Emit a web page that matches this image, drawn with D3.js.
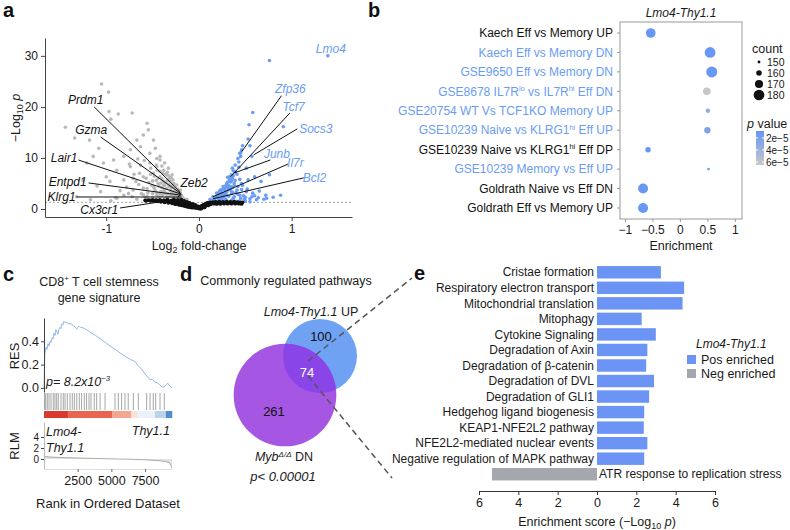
<!DOCTYPE html>
<html><head><meta charset="utf-8">
<script src="https://cdn.jsdelivr.net/npm/d3@7"></script>
<style>
body{margin:0;background:#fff;}
svg{font-family:"Liberation Sans",Arial,Helvetica,sans-serif;}
</style></head><body>
<svg id="fig" width="790" height="530"></svg>
<script>
// ---------------- DATA ----------------
// Panel a: volcano (log2FC, -log10 p)
const volcanoBlack = [[-0.58,1.7],[-0.55,1.75],[-0.52,1.65],[-0.5,1.8],[-0.48,1.6],[-0.46,1.75],[-0.44,1.55],[-0.42,1.8],[-0.4,1.5],[-0.38,1.7],[-0.36,1.45],[-0.34,1.85],[-0.32,1.35],[-0.3,1.65],[-0.28,1.25],[-0.27,1.9],[-0.26,1.5],[-0.25,0.95],[-0.24,1.15],[-0.23,1.75],[-0.22,1.4],[-0.21,0.8],[-0.2,1.05],[-0.19,1.85],[-0.18,1.3],[-0.18,0.7],[-0.17,0.95],[-0.16,1.6],[-0.15,1.15],[-0.15,0.55],[-0.14,0.8],[-0.13,1.4],[-0.12,1.0],[-0.12,0.4],[-0.11,0.65],[-0.1,1.2],[-0.09,0.85],[-0.09,0.3],[-0.08,0.5],[-0.07,1.0],[-0.06,0.65],[-0.05,0.35],[-0.04,0.8],[-0.03,0.45],[-0.02,0.2],[-0.01,0.5],[0,0.1],[0,0.35],[0.01,0.25],[0.02,0.5],[0.03,0.15],[0.04,0.7],[0.05,0.4],[0.06,0.9],[0.07,0.6],[0.08,1.1],[0.09,0.8],[0.1,1.25],[0.11,0.95],[0.12,1.3],[0.13,1.0],[0.15,1.35],[0.16,1.05],[0.18,1.4],[0.2,1.1],[0.22,1.45],[0.24,1.15],[0.26,1.4],[0.28,1.2],[0.3,1.45],[0.32,1.15],[0.34,1.4],[0.36,1.2],[0.38,1.45],[0.4,1.15],[0.42,1.35],[0.44,1.2],[0.46,1.0],[0.47,1.3],
 [-0.57,1.6],[-0.535,1.7],[-0.505,1.6],[-0.47,1.7],[-0.45,1.5],[-0.43,1.65],[-0.41,1.4],[-0.39,1.6],[-0.37,1.3],[-0.35,1.6],[-0.33,1.2],[-0.31,1.55],[-0.29,1.1],[-0.27,1.4],[-0.26,1.0],[-0.24,1.6],[-0.22,0.9],[-0.21,1.3],[-0.19,0.75],[-0.17,1.45],[-0.16,0.65],[-0.14,1.2],[-0.13,0.5],[-0.11,1.05],[-0.1,0.35],[-0.08,0.9],[-0.07,0.25],[-0.05,0.7],[-0.04,0.2],[-0.03,0.6],[-0.01,0.15],[0.01,0.4],[0.02,0.05],[0.03,0.6],[0.05,0.8],[0.06,0.3],[0.07,1.0],[0.09,1.15],[0.1,0.7],[0.12,0.9],[0.14,1.2],[0.17,1.25],[0.19,1.0],[0.21,1.3],[0.23,1.0],[0.25,1.25],[0.27,1.05],[0.29,1.3],[0.31,1.05],[0.33,1.3],[0.35,1.05],[0.37,1.3],[0.39,1.05],[0.41,1.25],[0.43,1.05],[0.45,1.25]];
const volcanoGray = [[-1.05,24.5],[-0.975,22.9],[-1.44,16.0],[-1.34,13.9],[-0.97,19.1],[-0.87,18.6],[-0.72,18.8],[-0.95,17.6],[-1.18,13.5],[-1.08,11.9],[-0.56,16.8],[-0.545,15.5],[-0.49,13.5],[-0.6,14.5],[-0.67,13.5],[-0.63,12.2],[-0.47,11.9],[-0.53,10.9],[-0.42,10.3],[-0.74,11.6],[-0.81,10.3],[-0.92,9.6],[-1.03,9.0],[-1.14,10.3],[-1.21,9.0],[-0.885,7.6],[-0.74,8.3],[-0.63,8.6],[-0.53,9.0],[-0.455,8.3],[-0.38,7.6],[-0.35,6.7],[-0.42,6.3],[-0.49,7.0],[-0.6,6.3],[-0.71,6.0],[-0.81,5.7],[-0.96,5.4],[-0.31,5.4],[-0.38,4.7],[-0.49,4.4],[-0.6,4.1],[-0.71,3.7],[-0.28,4.4],[-0.29,3.4],[-0.365,3.1],[-0.455,2.7],[-0.56,2.5],[-0.81,2.7],[-0.24,2.4],[-0.28,2.1],[-0.35,1.9],[-0.22,3.1],[-0.2,3.7],[-0.24,4.7],[-0.28,5.7],[-0.29,6.7],[-0.33,8.0],[-0.37,9.0],[-0.42,9.6],[-0.455,9.9],[-0.19,2.7],[-0.17,2.1],[-0.15,1.8],[-0.13,1.9],[-1.06,3.4],[-1.32,2.4],[-1.17,1.8],[-0.53,1.8],[-0.67,1.9],[-0.885,2.1],[-0.42,1.6],[-0.29,1.6],[-0.3,4.0],[-0.33,4.8],[-0.26,3.6],[-0.27,5.0],[-0.32,5.9],[-0.36,5.2],[-0.4,5.9],[-0.44,5.0],[-0.38,3.6],[-0.42,3.0],[-0.47,3.5],[-0.5,5.5],[-0.52,6.8],[-0.45,7.6],[-0.4,8.4],[-0.34,7.2],[-0.25,2.9],[-0.23,3.9],[-0.21,2.5],[-0.2,2.0],[-0.18,2.3],[-0.16,1.6],[-0.14,1.45],[-0.12,1.4],[-0.55,3.2],[-0.58,2.2],[-0.62,3.0],[-0.65,4.8],[-0.68,5.4],[-0.72,2.4],[-0.76,3.0],[-0.78,4.3],[-0.85,3.6],[-0.9,2.2],[-0.95,1.6],[-1.0,6.3],[-1.1,4.5],[-1.25,5.6],[-0.33,2.3],[-0.37,2.0],[-0.45,1.7],[-0.5,2.2],[-0.4,2.6],
 [-0.22,1.6],[-0.23,2.2],[-0.24,3.3],[-0.26,2.6],[-0.26,4.2],[-0.27,3.2],[-0.28,2.8],[-0.29,4.8],[-0.3,3.0],[-0.3,6.2],[-0.31,2.6],[-0.31,3.6],[-0.32,4.4],[-0.33,6.5],[-0.34,3.0],[-0.34,5.6],[-0.35,2.4],[-0.35,4.0],[-0.36,6.8],[-0.37,3.3],[-0.37,4.6],[-0.38,5.4],[-0.39,2.8],[-0.39,7.0],[-0.4,4.2],[-0.41,3.4],[-0.41,5.1],[-0.42,7.4],[-0.43,2.4],[-0.43,4.5],[-0.44,6.0],[-0.45,3.1],[-0.46,5.6],[-0.46,8.6],[-0.48,4.0],[-0.48,6.4],[-0.5,3.0],[-0.51,4.6],[-0.52,8.0],[-0.54,5.2],[-0.56,4.0],[-0.57,6.0],[-0.59,9.5],[-0.6,2.8],[-0.64,7.0],[-0.66,9.8],[-0.7,6.8],[-0.75,8.8]];
const volcanoBlue = [[0.76,29.1],[0.58,18.9],[0.54,16.5],[0.91,16.1],[0.53,13.7],[0.55,12.4],[0.46,11.6],[0.44,10.9],[0.45,10.3],[0.57,10.3],[0.42,9.9],[0.39,8.6],[0.36,8.0],[0.39,7.3],[0.35,6.7],[0.51,8.0],[0.6,6.3],[0.76,6.7],[0.67,5.4],[0.53,5.7],[0.46,5.0],[0.33,5.7],[0.30,5.0],[0.26,4.4],[0.23,3.7],[0.33,4.1],[0.41,3.7],[0.51,3.4],[0.19,3.1],[0.30,2.7],[0.44,2.7],[0.72,2.7],[0.88,2.7],[0.73,2.1],[0.57,2.4],[0.15,2.4],[0.23,2.1],[0.37,2.1],[0.49,1.9],[0.62,1.8],[0.12,1.9],[0.30,1.6],[0.44,1.6],[0.55,1.4],[0.15,1.4],[0.14,1.5],[0.16,1.8],[0.18,2.2],[0.2,2.6],[0.22,2.9],[0.24,3.3],[0.26,3.0],[0.28,3.6],[0.3,4.2],[0.32,4.6],[0.34,5.3],[0.36,6.0],[0.27,2.4],[0.25,2.0],[0.21,1.7],[0.19,1.45],[0.29,1.9],[0.32,2.5],[0.35,3.0],[0.38,2.4],[0.4,3.2],[0.42,4.4],[0.38,5.0],[0.36,4.2],[0.34,3.7],[0.45,2.1],[0.48,2.6],[0.5,1.6],[0.27,1.5],[0.35,1.7],[0.4,1.5],[0.58,3.1],[0.64,2.2],[0.2,1.35],[0.13,1.35],[0.17,1.4],[0.24,1.55],[0.31,6.2],[0.37,7.5],[0.43,8.2],[0.47,12.4],[0.45,11.0],
 [0.15,1.6],[0.17,2.0],[0.19,2.4],[0.21,2.2],[0.22,3.4],[0.24,2.7],[0.25,3.8],[0.26,2.2],[0.27,4.0],[0.28,3.0],[0.29,4.6],[0.3,3.4],[0.31,5.3],[0.32,3.8],[0.33,6.3],[0.34,4.4],[0.35,5.5],[0.36,3.3],[0.37,6.5],[0.38,4.6],[0.39,5.6],[0.41,6.8],[0.42,2.9],[0.43,9.2],[0.44,5.8],[0.46,3.8],[0.47,4.6],[0.5,2.3],[0.52,3.9],[0.55,2.0],[0.6,2.6],[0.65,3.5],[0.7,1.9],[0.8,2.3],[1.39,30.0]];
const sigThreshold = 1.3;
const geneNames = ["Prdm1","Gzma","Lair1","Entpd1","Klrg1","Cx3cr1","Zeb2","Lmo4","Zfp36","Tcf7","Socs3","Junb","Il7r","Bcl2"];
const geneFC    = [-0.20,-0.20,-0.19,-0.19,-0.19,-0.20,-0.23,1.39,0.46,0.34,0.59,0.37,0.15,0.15];
const geneLogP  = [3.3,3.1,2.9,2.7,2.35,2.0,2.2,30.0,11.2,6.3,10.6,7.0,2.4,2.0];
const geneUp    = [false,false,false,false,false,false,false,true,true,true,true,true,true,true];
const volcanoXTicks = [-1,0,1];
const volcanoYTicks = [0,10,20,30];

// Panel b: dot plot
const gseTerms = ["Kaech Eff vs Memory UP","Kaech Eff vs Memory DN","GSE9650 Eff vs Memory DN","GSE8678 IL7R^{lo} vs IL7R^{hi} Eff DN","GSE20754 WT Vs TCF1KO Memory UP","GSE10239 Naive vs KLRG1^{hi} Eff UP","GSE10239 Naive vs KLRG1^{hi} Eff DP","GSE10239 Memory vs Eff UP","Goldrath Naive vs Eff DN","Goldrath Eff vs Memory UP"];
const gseEnrichment = [-0.53,0.55,0.58,0.49,0.51,0.5,-0.58,0.52,-0.67,-0.67];
const gseCount = [176,180,181,168,156,163,160,150,177,177];
const gsePval = [1.0e-5,1.0e-5,1.0e-5,6.4e-5,3.4e-5,2.2e-5,1.0e-5,2.0e-5,1.0e-5,1.0e-5];
const gseHighlighted = [false,true,true,true,true,true,false,true,false,false];
const enrichTicks = [-1,-0.5,0,0.5,1];
const countLegend = [150,160,170,180];
const pLegend = [2e-5,4e-5,6e-5];

// Panel c: GSEA
const resRank = [0,60,150,220,300,380,440,520,590,680,735,820,880,960,1030,1100,1180,1250,1320,1400,1470,1580,1690,1800,1985,2100,2200,2300,2430,2500,2570,2650,2720,2900,3090,3400,3820,4200,4560,4900,5290,5650,6030,6400,6760,7000,7280,7500,7870,8050,8230,8400,8600,8820,8950,9040,9190,9340,9480];
const resValue = [0,0.29,0.35,0.33,0.38,0.36,0.40,0.39,0.43,0.42,0.47,0.45,0.50,0.48,0.46,0.50,0.52,0.51,0.55,0.54,0.57,0.56,0.565,0.55,0.55,0.545,0.53,0.525,0.505,0.52,0.53,0.525,0.52,0.515,0.505,0.48,0.45,0.42,0.39,0.36,0.33,0.30,0.27,0.245,0.225,0.19,0.155,0.12,0.07,0.075,0.05,0.045,0.026,0.005,0.01,0.025,0.04,0.017,0.0];
const hitRanks = [40,126,245,371,519,690,816,942,1060,1262,1430,1560,1730,1930,2100,2250,2430,2620,2790,2990,3160,3340,3490,3730,3910,4160,4530,5270,5520,5760,6010,6250,6630,7000,7620,7870,8110,8290,8610,8930];
const heatStart = [0,1800,5050,6460,6900,8240,9050];
const heatEnd   = [1800,5050,6460,6900,8240,9050,9500];
const heatColor = ["#d93a2e","#ea6550","#f2a68f","#fbe2d5","#eaf1fa","#b9d4ea","#4f8ecb"];
const rlmRank  = [0,100,500,1500,3000,4500,5500,6500,7500,8500,9000,9300,9420,9500];
const rlmValue = [0.7,0.45,0.35,0.25,0.15,0.05,0,-0.05,-0.15,-0.3,-0.45,-0.7,-1.2,-1.6];
const rankTicks = [2500,5000,7500];
const resTicks = [0,0.2,0.4];
const rlmTicks = [0,2,4];

// Panel d: Venn
const vennUpOnly = 100, vennCommon = 74, vennDnOnly = 261;

// Panel e: bar chart
const pathways = ["Cristae formation","Respiratory electron transport","Mitochondrial translation","Mitophagy","Cytokine Signaling","Degradation of Axin","Degradation of β-catenin","Degradation of DVL","Degradation of GLI1","Hedgehog ligand biogenesis","KEAP1-NFE2L2 pathway","NFE2L2-mediated nuclear events","Negative regulation of MAPK pathway","ATR response to replication stress"];
const pathwayScore = [3.25,4.43,4.35,2.27,2.99,2.56,2.5,2.9,2.65,2.4,2.38,2.56,2.4,-5.34];
const scoreTicks = [-6,-4,-2,0,2,4,6];

// ---------------- DRAW ----------------
const svg = d3.select("#fig");
const BLUE = "#6a9cf4";
const TXT = "#1a1a1a";

function richText(t, str, size){
  const parts = str.split(/(\^\{[^}]*\}|_\{[^}]*\})/).filter(s=>s.length);
  let shift = 0;
  parts.forEach(p=>{
    let m;
    const ts = t.append("tspan");
    if((m = p.match(/^\^\{(.*)\}$/))){
      const d = -size*0.38; ts.attr("dy", d - shift).attr("font-size", size*0.62).text(m[1]); shift = d;
    } else if((m = p.match(/^_\{(.*)\}$/))){
      const d = size*0.25; ts.attr("dy", d - shift).attr("font-size", size*0.72).text(m[1]); shift = d;
    } else {
      if(shift !== 0) ts.attr("dy", -shift);
      ts.text(p); shift = 0;
    }
  });
}
function styleAxis(g, lineColor, textSize){
  g.selectAll(".domain").attr("stroke", lineColor);
  g.selectAll(".tick line").attr("stroke", lineColor);
  g.selectAll(".tick text").attr("fill", TXT).attr("font-size", textSize).attr("font-family", null);
  g.attr("font-family", null);
}
function letter(x, y, s){
  svg.append("text").attr("x", x).attr("y", y).attr("font-size", 20).attr("font-weight", "bold").attr("fill", "#111").text(s);
}

// ===== Panel a =====
(function(){
  const g = svg.append("g");
  const x = d3.scaleLinear().domain([-1.66,1.65]).range([45,352]);
  const y = d3.scaleLinear().domain([-1.57,33.5]).range([217,38]);
  g.append("line").attr("x1", x.range()[0]).attr("x2", x.range()[1])
    .attr("y1", y(sigThreshold)).attr("y2", y(sigThreshold))
    .attr("stroke", "#888").attr("stroke-width", 0.8).attr("stroke-dasharray", "2,2");
  g.selectAll(".gp").data(volcanoGray).join("circle").attr("cx", d=>x(d[0])).attr("cy", d=>y(d[1])).attr("r", 1.8).attr("fill", "#b9b9b9");
  g.selectAll(".bp").data(volcanoBlue).join("circle").attr("cx", d=>x(d[0])).attr("cy", d=>y(d[1])).attr("r", 1.8).attr("fill", BLUE);
  g.selectAll(".kp").data(volcanoBlack).join("circle").attr("cx", d=>x(d[0])).attr("cy", d=>y(d[1])).attr("r", 1.9).attr("fill", "#111");

  // label layout (data coordinates of text anchor and leader start)
  const labelLayout = [
    {tx:-1.03, ty:20.6, anchor:"end", sx:-1.13, sy:20.0},
    {tx:-0.99, ty:14.7, anchor:"end", sx:-1.06, sy:14.1},
    {tx:-1.31, ty:9.2, anchor:"end", sx:-1.30, sy:9.6},
    {tx:-1.21, ty:4.5, anchor:"end", sx:-1.19, sy:5.1},
    {tx:-1.33, ty:1.6, anchor:"end", sx:-1.32, sy:2.35},
    {tx:-0.87, ty:-1.0, anchor:"end", sx:-0.85, sy:0.2},
    {tx:-0.20, ty:4.3, anchor:"start", sx:-0.19, sy:3.2},
    {tx:1.26, ty:30.6, anchor:"start", sx:null, sy:null},
    {tx:0.82, ty:22.7, anchor:"start", sx:0.89, sy:22.2},
    {tx:0.90, ty:19.2, anchor:"start", sx:0.98, sy:18.8},
    {tx:1.08, ty:14.9, anchor:"start", sx:1.06, sy:15.7},
    {tx:0.70, ty:10.0, anchor:"start", sx:0.77, sy:9.6},
    {tx:0.95, ty:8.2, anchor:"start", sx:0.96, sy:8.8},
    {tx:1.12, ty:5.3, anchor:"start", sx:1.13, sy:6.1}
  ];
  geneNames.forEach((name,i)=>{
    const L = labelLayout[i];
    if(L.sx !== null){
      g.append("line").attr("x1", x(L.sx)).attr("y1", y(L.sy)).attr("x2", x(geneFC[i])).attr("y2", y(geneLogP[i]))
        .attr("stroke", "#111").attr("stroke-width", 1);
    }
    g.append("text").attr("x", x(L.tx)).attr("y", y(L.ty)).attr("text-anchor", L.anchor)
      .attr("font-size", 12).attr("font-style", "italic").attr("fill", geneUp[i] ? BLUE : "#111").text(name);
  });
  const ga = g.append("g").attr("transform", "translate(0,217)").call(d3.axisBottom(x).tickValues(volcanoXTicks).tickSize(4).tickSizeOuter(0).tickPadding(3).tickFormat(d=>d<0 ? "-"+Math.abs(d) : String(d)));
  styleAxis(ga, "#444", 12);
  const gy = g.append("g").attr("transform", "translate(45,0)").call(d3.axisLeft(y).tickValues(volcanoYTicks).tickSize(4).tickSizeOuter(0).tickPadding(3).tickFormat(d3.format("d")));
  styleAxis(gy, "#444", 12);
  const xl = g.append("text").attr("x", 199).attr("y", 250).attr("text-anchor", "middle").attr("font-size", 12.5).attr("fill", TXT);
  richText(xl, "Log_{2} fold-change", 12.5);
  const yl = g.append("text").attr("transform", "translate(20,118) rotate(-90)").attr("text-anchor", "middle").attr("font-size", 12.5).attr("fill", TXT);
  yl.append("tspan").text("−Log");
  yl.append("tspan").attr("dy", 3).attr("font-size", 9).text("10");
  yl.append("tspan").attr("dy", -3).text(" ");
  yl.append("tspan").attr("font-style", "italic").text("p");
})();
letter(3, 17, "a");

// ===== Panel b =====
(function(){
  const g = svg.append("g");
  const x = d3.scaleLinear().domain([-1.09,1.13]).range([620,742]);
  const y = d3.scalePoint().domain(gseTerms).range([33,208]);
  const r = d3.scaleSqrt().domain([140,185]).range([0,6.0]);
  const pmin = 0.85e-5, pmax = 6.5e-5;
  const col = d3.scaleLinear().domain([pmin,pmax]).range(["#6696f5","#c8c8c8"]);
  g.append("rect").attr("x",620).attr("y",22).attr("width",122).attr("height",197).attr("fill","#fff").attr("stroke","#999").attr("stroke-width",1);
  const ax = g.append("g").attr("transform","translate(0,219)").call(d3.axisBottom(x).tickValues(enrichTicks).tickSize(3).tickSizeOuter(0).tickPadding(3).tickFormat(d3.format("")));
  styleAxis(ax, "#999", 12);
  ax.select(".domain").remove();
  gseTerms.forEach((t,i)=>{
    g.append("line").attr("x1",617).attr("x2",620).attr("y1",y(t)).attr("y2",y(t)).attr("stroke","#999");
    const tx = g.append("text").attr("x",613).attr("y",y(t)+4.2).attr("text-anchor","end").attr("font-size",12)
      .attr("fill", gseHighlighted[i] ? BLUE : "#111");
    richText(tx, t, 12);
  });
  g.selectAll(".dot").data(gseTerms).join("circle")
    .attr("cx",(d,i)=>x(gseEnrichment[i])).attr("cy",d=>y(d))
    .attr("r",(d,i)=>r(gseCount[i])).attr("fill",(d,i)=>col(gsePval[i]));
  g.append("text").attr("x",681).attr("y",17).attr("text-anchor","middle").attr("font-size",12).attr("font-style","italic").attr("fill",TXT).text("Lmo4-Thy1.1");
  g.append("text").attr("x",681).attr("y",250).attr("text-anchor","middle").attr("font-size",12.5).attr("fill",TXT).text("Enrichment");
  // size legend
  g.append("text").attr("x",752).attr("y",53).attr("font-size",12.5).attr("fill",TXT).text("count");
  const ly = [62,73,84,95];
  countLegend.forEach((c,i)=>{
    g.append("circle").attr("cx",759).attr("cy",ly[i]).attr("r",r(c)).attr("fill","#111");
    g.append("text").attr("x",767).attr("y",ly[i]+3.8).attr("font-size",10.5).attr("fill",TXT).text(c);
  });
  // color legend
  const lt = g.append("text").attr("x",747).attr("y",128).attr("font-size",12.5).attr("fill",TXT);
  lt.append("tspan").attr("font-style","italic").text("p");
  lt.append("tspan").text(" value");
  const defs = svg.append("defs");
  const grad = defs.append("linearGradient").attr("id","pgrad").attr("x1",0).attr("x2",0).attr("y1",0).attr("y2",1);
  grad.append("stop").attr("offset","0%").attr("stop-color",col(pmin));
  grad.append("stop").attr("offset","100%").attr("stop-color",col(pmax));
  const cy = d3.scaleLinear().domain([pmin,pmax]).range([131,165]);
  g.append("rect").attr("x",756).attr("y",131).attr("width",8).attr("height",34).attr("fill","url(#pgrad)");
  pLegend.forEach(p=>{
    g.append("line").attr("x1",756).attr("x2",758).attr("y1",cy(p)).attr("y2",cy(p)).attr("stroke","#fff");
    g.append("line").attr("x1",762).attr("x2",764).attr("y1",cy(p)).attr("y2",cy(p)).attr("stroke","#fff");
    g.append("text").attr("x",766).attr("y",cy(p)+3.8).attr("font-size",10).attr("fill",TXT).text(d3.format(".0e")(p).replace("-","−"));
  });
})();
letter(368, 17, "b");

// ===== Panel c =====
(function(){
  const g = svg.append("g");
  const x = d3.scaleLinear().domain([0,9500]).range([44,172]);
  const yr = d3.scaleLinear().domain([-0.035,0.6]).range([392,318]);
  const yl = d3.scaleLinear().domain([-1.82,6.73]).range([469,422]);
  const t1 = g.append("text").attr("x",99).attr("y",286).attr("text-anchor","middle").attr("font-size",12.5).attr("fill",TXT);
  richText(t1, "CD8^{+} T cell stemness", 12.5);
  g.append("text").attr("x",99).attr("y",302).attr("text-anchor","middle").attr("font-size",12.5).attr("fill",TXT).text("gene signature");
  const line = d3.line().x(d=>x(d[0])).y(d=>yr(d[1]));
  g.append("path").attr("d", line(resRank.map((r,i)=>[r,resValue[i]]))).attr("fill","none").attr("stroke","#94b6ee").attr("stroke-width",1);
  g.selectAll(".hit").data(hitRanks).join("line").attr("x1",d=>x(d)).attr("x2",d=>x(d)).attr("y1",393).attr("y2",410)
    .attr("stroke","#444").attr("stroke-opacity",0.6).attr("stroke-width",0.8);
  heatStart.forEach((s,i)=>{
    g.append("rect").attr("x",x(s)).attr("y",411).attr("width",x(heatEnd[i])-x(s)+0.3).attr("height",7).attr("fill",heatColor[i]);
  });
  const area = d3.area().x(d=>x(d[0])).y0(yl(0)).y1(d=>yl(d[1]));
  const rl = rlmRank.map((r,i)=>[r,rlmValue[i]]);
  g.append("path").attr("d",area(rl)).attr("fill","#e2e2e2");
  g.append("path").attr("d",d3.line().x(d=>x(d[0])).y(d=>yl(d[1]))(rl)).attr("fill","none").attr("stroke","#999").attr("stroke-width",0.8);
  const ayr = g.append("g").attr("transform","translate(44,0)").call(d3.axisLeft(yr).tickValues(resTicks).tickSize(3).tickSizeOuter(0).tickPadding(2).tickFormat(d3.format(".1f")));
  styleAxis(ayr,"#444",12.5);
  const ayl = g.append("g").attr("transform","translate(44,0)").call(d3.axisLeft(yl).tickValues(rlmTicks).tickSize(3).tickSizeOuter(0).tickPadding(2).tickFormat(d3.format("d")));
  styleAxis(ayl,"#444",10);
  ayl.select(".domain").attr("stroke","#bbb");
  const axx = g.append("g").attr("transform","translate(0,469)").call(d3.axisBottom(x).tickValues(rankTicks).tickSize(3).tickSizeOuter(0).tickPadding(4).tickFormat(d3.format("d")));
  styleAxis(axx,"#666",12.5);
  axx.select(".domain").attr("stroke","#ddd");
  const pt = g.append("text").attr("x",46).attr("y",386).attr("font-size",12.5).attr("font-style","italic").attr("fill",TXT);
  richText(pt, "p= 8.2x10^{−3}", 12.5);
  g.append("text").attr("x",46).attr("y",436).attr("font-size",12.5).attr("font-style","italic").attr("fill",TXT).text("Lmo4-");
  g.append("text").attr("x",46).attr("y",452).attr("font-size",12.5).attr("font-style","italic").attr("fill",TXT).text("Thy1.1");
  g.append("text").attr("x",170).attr("y",435).attr("text-anchor","end").attr("font-size",12.5).attr("font-style","italic").attr("fill",TXT).text("Thy1.1");
  g.append("text").attr("transform","translate(19,356) rotate(-90)").attr("text-anchor","middle").attr("font-size",13).attr("fill",TXT).text("RES");
  g.append("text").attr("transform","translate(19,446) rotate(-90)").attr("text-anchor","middle").attr("font-size",13).attr("fill",TXT).text("RLM");
  g.append("text").attr("x",108).attr("y",508).attr("text-anchor","middle").attr("font-size",13).attr("fill",TXT).text("Rank in Ordered Dataset");
})();
letter(3, 281, "c");

// ===== Panel d =====
(function(){
  const g = svg.append("g");
  const rs = d3.scaleSqrt().domain([0,vennUpOnly+vennCommon]).range([0,37]);
  const rUp = rs(vennUpOnly+vennCommon), rDn = rs(vennDnOnly+vennCommon);
  const cUp = [320,356], cDn = [285,395];
  g.append("text").attr("x",286).attr("y",285).attr("text-anchor","middle").attr("font-size",12.5).attr("fill",TXT).text("Commonly regulated pathways");
  const defs = svg.append("defs");
  defs.append("clipPath").attr("id","clipUp").append("circle").attr("cx",cUp[0]).attr("cy",cUp[1]).attr("r",rUp);
  g.append("circle").attr("cx",cUp[0]).attr("cy",cUp[1]).attr("r",rUp).attr("fill","#6fa2f3");
  g.append("circle").attr("cx",cDn[0]).attr("cy",cDn[1]).attr("r",rDn).attr("fill","#a557e3");
  g.append("circle").attr("cx",cDn[0]).attr("cy",cDn[1]).attr("r",rDn).attr("fill","#8a45e8").attr("clip-path","url(#clipUp)");
  g.append("text").attr("x",321).attr("y",341).attr("text-anchor","middle").attr("font-size",13).attr("fill","#111").text(vennUpOnly);
  g.append("text").attr("x",307).attr("y",377).attr("text-anchor","middle").attr("font-size",13).attr("fill","#fff").text(vennCommon);
  g.append("text").attr("x",274).attr("y",416).attr("text-anchor","middle").attr("font-size",13).attr("fill","#111").text(vennDnOnly);
  const t = g.append("text").attr("x",311).attr("y",316).attr("text-anchor","middle").attr("font-size",12.5).attr("fill",TXT);
  t.append("tspan").attr("font-style","italic").text("Lmo4-Thy1.1");
  t.append("tspan").text(" UP");
  const t2 = g.append("text").attr("x",284).attr("y",461).attr("text-anchor","middle").attr("font-size",12.5).attr("fill",TXT);
  t2.append("tspan").attr("font-style","italic").text("Myb");
  t2.append("tspan").attr("dy",-4).attr("font-size",8).attr("font-style","italic").text("Δ/Δ");
  t2.append("tspan").attr("dy",4).text(" DN");
  g.append("text").attr("x",283).attr("y",481).attr("text-anchor","middle").attr("font-size",13).attr("font-style","italic").attr("fill",TXT).text("p< 0.00001");
  g.append("line").attr("x1",308).attr("y1",361).attr("x2",412).attr("y2",278).attr("stroke","#555").attr("stroke-width",1.5).attr("stroke-dasharray","6,4");
  g.append("line").attr("x1",308).attr("y1",376).attr("x2",392).attr("y2",478).attr("stroke","#555").attr("stroke-width",1.5).attr("stroke-dasharray","6,4");
})();
letter(180, 281, "d");

// ===== Panel e =====
(function(){
  const g = svg.append("g");
  const x = d3.scaleLinear().domain([-6,6]).range([479,715]);
  const y = d3.scaleBand().domain(pathways).range([264.5,482]).paddingInner(0.2).paddingOuter(0.1);
  g.selectAll(".bar").data(pathways).join("rect")
    .attr("x",(d,i)=>x(Math.min(0,pathwayScore[i]))).attr("y",d=>y(d))
    .attr("width",(d,i)=>Math.abs(x(pathwayScore[i])-x(0))).attr("height",y.bandwidth())
    .attr("fill",(d,i)=>pathwayScore[i]>=0 ? "#6b94f4" : "#a4a8ae");
  pathways.forEach((p,i)=>{
    const pos = pathwayScore[i] >= 0;
    g.append("text").attr("x", pos ? x(0)-3 : x(0)+2).attr("y", y(p)+y.bandwidth()/2+4.2)
      .attr("text-anchor", pos ? "end" : "start").attr("font-size",12).attr("fill",TXT).text(p);
  });
  const ax = g.append("g").attr("transform","translate(0,491)").call(d3.axisBottom(x).tickValues(scoreTicks).tickSize(4).tickSizeOuter(0).tickPadding(3).tickFormat(d=>Math.abs(d)));
  styleAxis(ax,"#333",12.5);
  const xl = g.append("text").attr("x",597).attr("y",526).attr("text-anchor","middle").attr("font-size",12.5).attr("fill",TXT);
  xl.append("tspan").text("Enrichment score (−Log");
  xl.append("tspan").attr("dy",3).attr("font-size",9).text("10");
  xl.append("tspan").attr("dy",-3).text(" ");
  xl.append("tspan").attr("font-style","italic").text("p");
  xl.append("tspan").text(")");
  g.append("text").attr("x",696).attr("y",348).attr("font-size",12).attr("font-style","italic").attr("fill",TXT).text("Lmo4-Thy1.1");
  const legendItems = [["Pos enriched","#6b94f4"],["Neg enriched","#a4a8ae"]];
  legendItems.forEach((it,i)=>{
    g.append("rect").attr("x",687).attr("y",355+i*14).attr("width",9).attr("height",9).attr("fill",it[1]);
    g.append("text").attr("x",701).attr("y",364+i*14).attr("font-size",12.5).attr("fill",TXT).text(it[0]);
  });
})();
letter(414, 280, "e");
</script>
</body></html>
